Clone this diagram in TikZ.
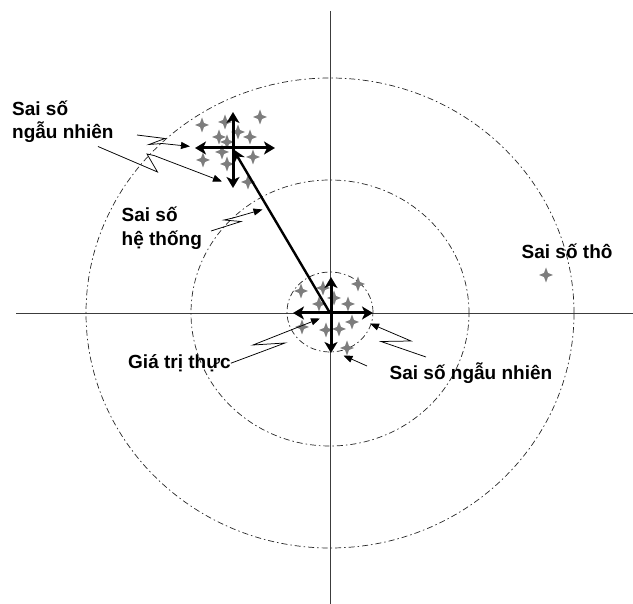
\documentclass[tikz,border=0pt]{standalone}
\usepackage{fontspec}
\setmainfont{Liberation Sans}
\usetikzlibrary{arrows.meta, positioning}
\definecolor{mauTruc}{RGB}{60,60,60}
\definecolor{mauDiem}{RGB}{125,125,125}
\tikzset{
  ss/axis/.style={draw=mauTruc, line width=0.9pt},
  ss/ring/.style={draw=black!85, line width=0.7pt,
    dash pattern=on 6pt off 3pt on 1.5pt off 3pt},
  ss/cross/.style={{Stealth[length=11pt,width=13pt,inset=3pt]}-{Stealth[length=11pt,width=13pt,inset=3pt]},
    line width=3pt},
  ss/sys/.style={-{Stealth[length=13pt,width=12pt]}, line width=2.4pt},
  ss/call/.style={-{Triangle[length=9pt,width=7pt]}, line width=0.75pt},
  ss/lbl/.style={font=\fontsize{19}{23.5}\selectfont\bfseries, inner sep=0pt,
    align=left},
  ss/star/.pic={\fill[mauDiem] (0,-7.5) -- (2,-2) -- (7,0) -- (2,2)
    -- (0,7.5) -- (-2,2) -- (-7,0) -- (-2,-2) -- cycle;}
}
\begin{document}
\begin{tikzpicture}[x=1pt, y=-1pt]
  \useasboundingbox (0,0) rectangle (633,604);
  \coordinate (O) at (330,313);
  \coordinate (M) at (233,149);
  % truc toa do
  \draw[ss/axis] (330,11) -- (330,604);
  \draw[ss/axis] (16,313) -- (633,313);
  % cac vong
  \draw[ss/ring] (O) ellipse [x radius=244pt, y radius=235pt];
  \draw[ss/ring] (O) ellipse [x radius=139pt, y radius=133pt];
  \draw[ss/ring] ([shift={(0,-1)}]O) ellipse [x radius=43pt, y radius=40pt];
  % cac diem do
  \foreach \p in {(202,125), (225,122), (260,117), (238,132), (219,137),
                  (250,137), (227,142), (222,152), (253,157), (203,160),
                  (227,164), (248,182),
                  (301,291), (358,284), (323,288), (334,298), (319,304),
                  (348,304), (352,322), (302,327), (326,330), (339,329),
                  (347,348),
                  (546,275)}
    \pic at \p {ss/star};
  % mui ten
  \draw[ss/sys] (O) -- (M);
  \draw[ss/cross] ([shift={(-38,-1)}]M) -- ([shift={(42,-1)}]M);
  \draw[ss/cross] ([shift={(0,-37)}]M) -- ([shift={(0,39)}]M);
  \draw[ss/cross] ([shift={(-37,0)}]O) -- ([shift={(43,0)}]O);
  \draw[ss/cross] ([shift={(1,-36)}]O) -- ([shift={(1,40)}]O);
  % nhan
  \node[ss/lbl, anchor=base west] (ngnTren) at (12,139) {Sai số\\ngẫu nhiên};
  \node[ss/lbl, anchor=base west] (heThong) at (121.5,245.5) {Sai số\\hệ thống};
  \node[ss/lbl, anchor=base west] (tho) at (521.5,258.3) {Sai số thô};
  \node[ss/lbl, anchor=base west] (thuc) at (128,368.5) {Giá trị thực};
  \node[ss/lbl, anchor=base west] (ngnDuoi) at (389.5,379.5) {Sai số ngẫu nhiên};
  % dau chu thich
  \coordinate (c1) at (137,135);
  \coordinate (c2) at (98,146.5);
  \coordinate (c3) at (211,231);
  \coordinate (c5) at (426,357);
  \coordinate (c6) at (367,366);
  \draw[ss/call] (c1) -- (165,138.5) -- (149,144.5) -- (162,143.5) -- (190,146.4);
  \draw[ss/call] (c2) -- (157.5,172) -- (147,154) -- (154,155.5) -- (222,181.5);
  \draw[ss/call] (c3) -- (241,221.5) -- (224,220) -- (233,218) -- (262.5,209.5);
  \draw[ss/call] (thuc.east) -- (285,343) -- (253,345) -- (320,318.5);
  \draw[ss/call] (c5) -- (381,341.5) -- (411,341) -- (370,323.5);
  \draw[ss/call] (c6) -- (343.5,355.5);
\end{tikzpicture}
\end{document}
